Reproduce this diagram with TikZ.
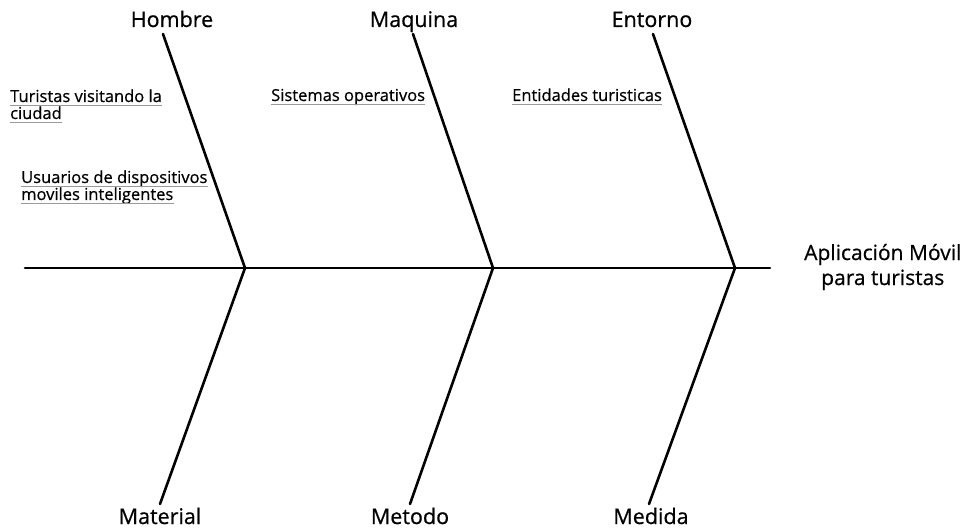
\documentclass[tikz,border=0pt]{standalone}
\usepackage{fontspec}
\setmainfont[FakeBold=0.6]{Open Sans}
\newfontfamily\medfont[FakeBold=0.6]{Open Sans}
\begin{document}
\begin{tikzpicture}[x=1pt,y=-1pt,
  bone/.style={line width=2.6pt,line cap=round},
  cat/.style={font=\medfont\fontsize{21.5}{24}\selectfont\addfontfeature{FakeBold=0.6},anchor=base,inner sep=0pt},
  cause/.style={font=\medfont\fontsize{16.5}{18}\selectfont\addfontfeature{FakeBold=0.6},anchor=base west,inner sep=0pt},
  ul/.style={gray!80,line width=0.9pt}]
\useasboundingbox (0,0) rectangle (966,529);
\coordinate (s0) at (25,268);
\coordinate (s1) at (770,268);
\coordinate (j1) at (245,268);
\coordinate (j2) at (493,268);
\coordinate (j3) at (735,268);
\coordinate (t1) at (163,34);
\coordinate (t2) at (413,34);
\coordinate (t3) at (653,34);
\coordinate (b1) at (160,504);
\coordinate (b2) at (410,504);
\coordinate (b3) at (649,504);
\draw[bone] (s0) -- (s1);
\draw[bone] (t1) -- (j1) -- (b1);
\draw[bone] (t2) -- (j2) -- (b2);
\draw[bone] (t3) -- (j3) -- (b3);
\node[cat] (hombre) at (172,27) {Hombre};
\node[cat] (maquina) at (414,27) {Maquina};
\node[cat] (entorno) at (652,27) {Entorno};
\node[cat] (material) at (160,524) {Material};
\node[cat] (metodo) at (410,524) {Metodo};
\node[cat] (medida) at (651,524) {Medida};
\node[font=\fontsize{21}{25}\selectfont,align=center,anchor=west,inner sep=0pt] (effect) at (804,267) {Aplicación Móvil\\para turistas};
% causes
\node[cause] (c1a) at (10,102) {Turistas visitando la};
\node[cause] (c1b) at (10,119) {ciudad};
\draw[ul] ([yshift=-3pt]c1a.base west) -- ([yshift=-3pt]c1a.base east);
\draw[ul] ([yshift=-3pt]c1b.base west) -- ([yshift=-3pt]c1b.base east);
\node[cause] (c2a) at (21,183) {Usuarios de dispositivos};
\node[cause] (c2b) at (21,200) {moviles inteligentes};
\draw[ul] ([yshift=-3pt]c2a.base west) -- ([yshift=-3pt]c2a.base east);
\draw[ul] ([yshift=-3pt]c2b.base west) -- ([yshift=-3pt]c2b.base east);
\node[cause] (c3) at (271,101) {Sistemas operativos};
\draw[ul] ([yshift=-3pt]c3.base west) -- ([yshift=-3pt]c3.base east);
\node[cause] (c4) at (512,101) {Entidades turisticas};
\draw[ul] ([yshift=-3pt]c4.base west) -- ([yshift=-3pt]c4.base east);
\end{tikzpicture}
\end{document}
